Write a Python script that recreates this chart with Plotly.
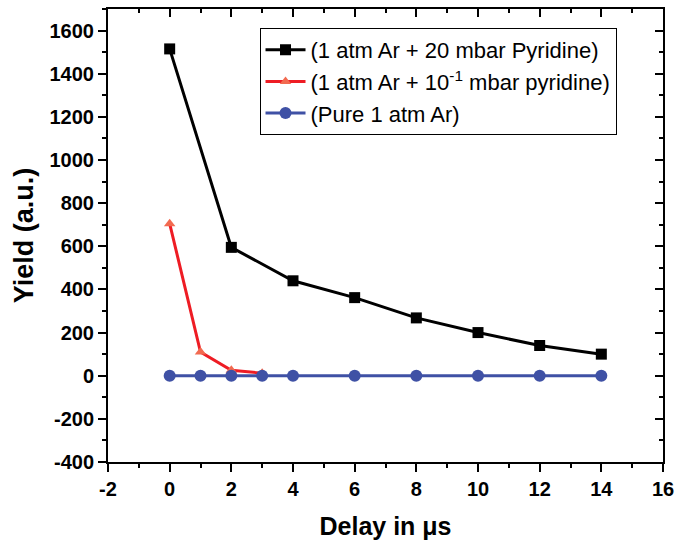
import plotly.graph_objects as go

black_x = [0, 2, 4, 6, 8, 10, 12, 14]
black_y = [1515, 595, 440, 362, 268, 200, 140, 100]
red_x = [0, 1, 2, 3]
red_y = [705, 110, 25, 12]
blue_x = [0, 1, 2, 3, 4, 6, 8, 10, 12, 14]
blue_y = [0, 0, 0, 0, 0, 0, 0, 0, 0, 0]

x_ticks = [-2, 0, 2, 4, 6, 8, 10, 12, 14, 16]
y_ticks = [-400, -200, 0, 200, 400, 600, 800, 1000, 1200, 1400, 1600]

names = ["(1 atm Ar + 20 mbar Pyridine)",
         "(1 atm Ar + 10<sup>-1</sup> mbar pyridine)",
         "(Pure 1 atm Ar)"]

fig = go.Figure()
fig.add_trace(go.Scatter(x=black_x, y=black_y, name=names[0], mode="lines+markers",
                         line=dict(color="black", width=3),
                         marker=dict(symbol="square", size=11, color="black")))
fig.add_trace(go.Scatter(x=red_x, y=red_y, name=names[1], mode="lines+markers",
                         line=dict(color="#ee1c24", width=3),
                         marker=dict(symbol="triangle-up", size=10, color="#f26a50")))
fig.add_trace(go.Scatter(x=blue_x, y=blue_y, name=names[2], mode="lines+markers",
                         line=dict(color="#3f51a5", width=3),
                         marker=dict(symbol="circle", size=12, color="#3f51a5")))

tickfont = dict(family="Liberation Sans, Arial", size=20, color="black")
common = dict(showline=True, linecolor="black", linewidth=2, ticks="outside",
              tickwidth=2, ticklen=8, tickcolor="black", showgrid=False, zeroline=False,
              tickfont=tickfont)

fig.update_layout(
    width=683, height=546,
    margin=dict(l=108, r=14, t=9, b=84),
    plot_bgcolor="white", paper_bgcolor="white",
    font=dict(family="Liberation Sans, Arial", color="black"),
    xaxis=dict(range=[-2, 16], tickmode="array", tickvals=x_ticks,
               ticktext=["<b>%d</b>" % v for v in x_ticks],
               minor=dict(dtick=1, tick0=-2, ticks="outside", ticklen=4, tickwidth=2, tickcolor="black"),
               title=dict(text="<b>Delay in μs</b>", font=dict(size=25), standoff=18),
               **common),
    yaxis=dict(range=[-400, 1700], tickmode="array", tickvals=y_ticks,
               ticktext=["<b>%d</b>" % v for v in y_ticks],
               minor=dict(dtick=100, tick0=-400, ticks="outside", ticklen=4, tickwidth=2, tickcolor="black"),
               title=dict(text="<b>Yield (a.u.)</b>", font=dict(size=27), standoff=8),
               **common),
    xaxis2=dict(overlaying="x", side="top", range=[-2, 16], tickmode="linear", tick0=-2, dtick=2,
                showline=True, linecolor="black", linewidth=2, ticks="inside", ticklen=8,
                tickwidth=2, tickcolor="black", showticklabels=False, showgrid=False, zeroline=False,
                minor=dict(dtick=1, ticks="inside", ticklen=4, tickwidth=2, tickcolor="black")),
    yaxis2=dict(overlaying="y", side="right", range=[-400, 1700], tickmode="linear", tick0=-400, dtick=200,
                showline=True, linecolor="black", linewidth=2, ticks="inside", ticklen=8,
                tickwidth=2, tickcolor="black", showticklabels=False, showgrid=False, zeroline=False,
                minor=dict(dtick=100, ticks="inside", ticklen=4, tickwidth=2, tickcolor="black")),
    legend=dict(x=0.273, y=0.958, xanchor="left", yanchor="top",
                bordercolor="black", borderwidth=1, bgcolor="white",
                font=dict(size=22, family="Liberation Sans, Arial", color="black"),
                tracegroupgap=0, itemwidth=40),
    showlegend=True,
)
fig.add_trace(go.Scatter(x=[None], y=[None], xaxis="x2", yaxis="y2", showlegend=False, hoverinfo="skip"))

fig.write_html("out.html")
